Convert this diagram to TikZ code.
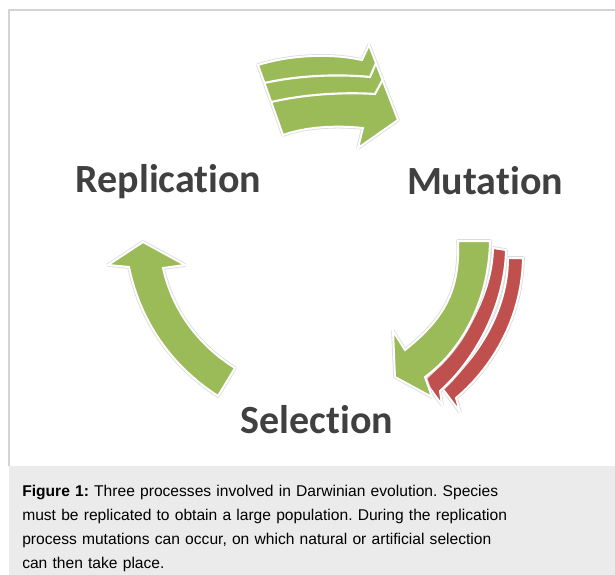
\documentclass[tikz,border=0pt]{standalone}
\usepackage{fontspec}
\newfontfamily\labelfont[Ligatures=NoCommon]{Carlito}
\newfontfamily\capfont{Liberation Sans}
\definecolor{ogreen}{HTML}{9BBB59}
\definecolor{ored}{HTML}{C0504D}
\definecolor{labelgray}{HTML}{404040}
\definecolor{capbg}{HTML}{EBEBEB}
\definecolor{framegray}{HTML}{D4D4D4}
\tikzset{
  shapeA/.style={fill=#1, draw=white, line width=1.5pt, line join=miter,
    preaction={draw=black!14, line width=2.7pt, line join=round}},
  divider/.style={draw=white, line width=1.6pt},
  lbl/.style={font=\labelfont\bfseries\fontsize{30}{36}\selectfont, text=labelgray, inner sep=0pt, anchor=base},
  captxt/.style={font=\capfont\frenchspacing\fontsize{11.7}{18}\selectfont, text=black, inner sep=0pt, anchor=base west, text width=442pt, align=left}
}
\begin{document}
\begin{tikzpicture}[x=0.75pt, y=-0.75pt]
\useasboundingbox (0,0) rectangle (615,575);
% frame and caption background
\fill[capbg] (9,466) rectangle (615,575);
\draw[framegray, line width=0.9pt] (9,466) -- (9,10) -- (615,10);

% top arrow (Replication -> Mutation)
\draw[shapeA=ogreen] (258,65) .. controls (290,55) and (330,53) .. (362,60) -- (369,45) -- (398,120) -- (358,148) -- (363,128) .. controls (335,125) and (305,127) .. (283,135) -- cycle;
\draw[divider] (264.5,83) .. controls (300,75) and (340,74) .. (370,77) -- (376,63);
\draw[divider] (271.5,102) .. controls (305,94) and (345,92) .. (375,94) -- (383,79);

% left arrow (Selection -> Replication)
\draw[shapeA=ogreen] (143,242) -- (185,265) -- (163,268) .. controls (170,300) and (190,340) .. (235,368) -- (218,396) .. controls (170,365) and (140,320) .. (129,267) -- (108,265) -- cycle;

% right arrows (Mutation -> Selection)
\draw[shapeA=ored] (508,258) -- (523,258) .. controls (522,315) and (495,365) .. (456,398) -- (460,412) -- (442,388) .. controls (478,358) and (508,310) .. (508,258) -- cycle;
\draw[shapeA=ored] (493,248) -- (506,250) .. controls (505,305) and (475,360) .. (440,391) -- (442,405) -- (424,380) .. controls (458,350) and (492,300) .. (493,248) -- cycle;
\draw[shapeA=ogreen] (458,241) -- (490,241) .. controls (489,300) and (462,350) .. (425,377) -- (432,397) -- (395,377) -- (393,331) -- (405,350) .. controls (445,318) and (460,290) .. (458,241) -- cycle;

% labels
\node[lbl] (replication) at (168.5,192) {Replication};
\node[lbl] (mutation) at (485,194) {Mutation};
\node[lbl] (selection) at (317,433) {Selection};

% caption
\node[captxt] (caption) at (22,496) {\textbf{Figure 1:} Three processes involved in Darwinian evolution. Species\\
must be replicated to obtain a large population. During the replication\\
process mutations can occur, on which natural or artificial selection\\
can then take place.};
\end{tikzpicture}
\end{document}
